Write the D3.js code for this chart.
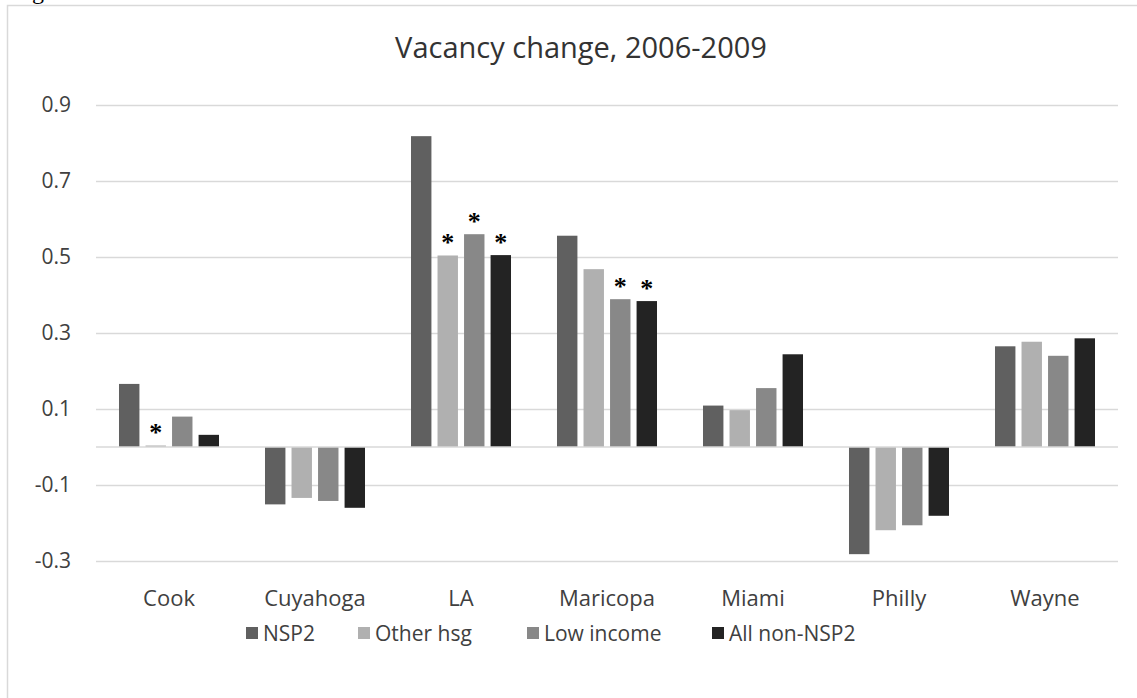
<!DOCTYPE html>
<html>
<head>
<meta charset="utf-8">
<script src="https://cdn.jsdelivr.net/npm/d3@7"></script>
<style>
  body { margin: 0; background: #fff; }
  svg { display: block; }
</style>
</head>
<body>
<svg id="chart" width="1137" height="698"></svg>
<script>
const categories = ["Cook", "Cuyahoga", "LA", "Maricopa", "Miami", "Philly", "Wayne"];
const seriesNames = ["NSP2", "Other hsg", "Low income", "All non-NSP2"];
const nsp2      = [0.166, -0.151, 0.818, 0.556, 0.109, -0.282, 0.265];
const otherHsg  = [0.004, -0.134, 0.504, 0.468, 0.097, -0.219, 0.277];
const lowIncome = [0.080, -0.142, 0.560, 0.389, 0.155, -0.206, 0.240];
const allNon    = [0.032, -0.160, 0.505, 0.384, 0.244, -0.181, 0.286];
// significance markers: [category, series]
const starred = [
  ["Cook", "Other hsg"],
  ["LA", "Other hsg"], ["LA", "Low income"], ["LA", "All non-NSP2"],
  ["Maricopa", "Low income"], ["Maricopa", "All non-NSP2"]
];
const tickValues = [-0.3, -0.1, 0.1, 0.3, 0.5, 0.7, 0.9];
const tickLabels = ["-0.3", "-0.1", "0.1", "0.3", "0.5", "0.7", "0.9"];
const colors = ["#606060", "#b0b0b0", "#888888", "#232323"];
const title = "Vacancy change, 2006-2009";

const values = [nsp2, otherHsg, lowIncome, allNon];
const svg = d3.select("#chart");

// frame
svg.append("rect").attr("x", 7.5).attr("y", 5.5).attr("width", 1200).attr("height", 800)
  .attr("fill", "none").attr("stroke", "#d9d9d9").attr("stroke-width", 1.5);
// cut-off caption fragment above the frame
svg.append("text").attr("x", 32).attr("y", -1).attr("font-family", "Liberation Serif")
  .attr("font-size", 24).attr("fill", "#000").text("g");

const x0 = d3.scaleBand().domain(categories).range([96, 1118])
  .paddingInner(0.315).paddingOuter(0.1575);
const x1 = d3.scaleBand().domain(seriesNames).range([0, x0.bandwidth()]).paddingInner(0.23);
const y = d3.scaleLinear().domain([-0.3, 0.9]).range([561, 105]);

const font = "'Open Sans', 'Liberation Sans', sans-serif";

// gridlines
const grid = svg.append("g").attr("transform", "translate(96,0)")
  .call(d3.axisLeft(y).tickValues(tickValues).tickSize(-1022).tickFormat(""));
grid.select(".domain").remove();
grid.selectAll("line").attr("stroke", "#d9d9d9").attr("stroke-width", 1.3);

// y tick labels
const yAx = svg.append("g").attr("transform", "translate(71,0)")
  .call(d3.axisLeft(y).tickValues(tickValues).tickSize(0).tickPadding(0)
    .tickFormat((d, i) => tickLabels[i]));
yAx.select(".domain").remove();
yAx.selectAll("text").attr("font-family", font).attr("font-size", 21).attr("fill", "#404040");

// bars
const groups = svg.append("g").selectAll("g").data(categories).join("g")
  .attr("transform", d => `translate(${x0(d)},0)`);
groups.selectAll("rect")
  .data((c, ci) => seriesNames.map((s, si) => ({c, s, si, v: values[si][ci]})))
  .join("rect")
  .attr("x", d => x1(d.s))
  .attr("width", x1.bandwidth())
  .attr("y", d => y(Math.max(0, d.v)))
  .attr("height", d => Math.abs(y(d.v) - y(0)))
  .attr("fill", d => colors[d.si]);

// zero axis line
svg.append("line").attr("x1", 96).attr("x2", 1118).attr("y1", y(0)).attr("y2", y(0))
  .attr("stroke", "#d9d9d9").attr("stroke-width", 1.3);

// asterisks
svg.append("g").selectAll("text").data(starred).join("text")
  .attr("x", d => x0(d[0]) + x1(d[1]) + x1.bandwidth() / 2)
  .attr("y", d => y(values[seriesNames.indexOf(d[1])][categories.indexOf(d[0])]) - 4)
  .attr("text-anchor", "middle")
  .attr("font-family", "Liberation Serif").attr("font-weight", "bold")
  .attr("font-size", 26).attr("fill", "#000")
  .text("*");

// x labels
const xAx = svg.append("g").attr("transform", "translate(0,589)")
  .call(d3.axisBottom(x0).tickSize(0).tickPadding(0));
xAx.select(".domain").remove();
xAx.selectAll("text").attr("font-family", font).attr("font-size", 22).attr("fill", "#404040")
  .attr("dy", "0.75em");

// title
svg.append("text").attr("x", 581).attr("y", 58).attr("text-anchor", "middle")
  .attr("font-family", font).attr("font-size", 29).attr("fill", "#333").text(title);

// legend
const legendX = [246, 358, 527, 712];
const lg = svg.append("g").selectAll("g").data(seriesNames).join("g")
  .attr("transform", (d, i) => `translate(${legendX[i]},633)`);
lg.append("rect").attr("x", 0).attr("y", -6).attr("width", 12).attr("height", 12)
  .attr("fill", (d, i) => colors[i]);
lg.append("text").attr("x", 17).attr("y", 0).attr("dy", "0.36em")
  .attr("font-family", font).attr("font-size", 21).attr("fill", "#404040").text(d => d);
</script>
</body>
</html>
